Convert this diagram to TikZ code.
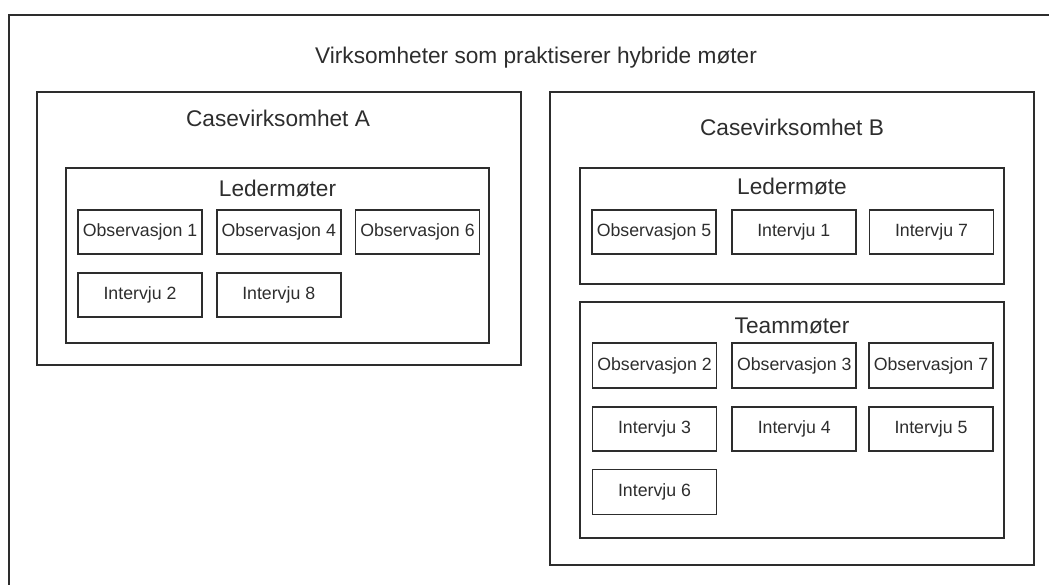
\documentclass[tikz,border=0pt]{standalone}
\usepackage{fontspec}
\setmainfont{Liberation Sans}
\usepackage{xcolor}
\usetikzlibrary{positioning}
\definecolor{inkgray}{RGB}{45,45,45}

\begin{document}
\begin{tikzpicture}[x=0.75pt, y=-0.75pt, font=\fontsize{13.3pt}{15pt}\selectfont, text=inkgray]
\tikzstyle{item}=[draw=inkgray, line width=1.3pt, minimum width=93pt, minimum height=33pt, inner sep=0pt, align=center]
\tikzstyle{group}=[draw=inkgray, line width=1.3pt, inner sep=0pt]
\tikzstyle{heading}=[font=\fontsize{17pt}{20pt}\selectfont, anchor=base, inner sep=0pt]
\useasboundingbox (0,0) rectangle (1049,585);
% outer frame, only its left and top edges are inside the picture
\coordinate (frameb) at (9,585);
\coordinate (framer) at (1049,15);
\draw[inkgray, line width=1.3pt] (frameb) |- (framer);
\node[heading] (title) at (536,64) {Virksomheter som praktiserer hybride møter};

% case A
\node[group, minimum width=363pt, minimum height=204.75pt] (caseA) at (278.75,228.5) {};
\node[heading] (caseAlbl) at (278,126) {Casevirksomhet A};
\node[group, minimum width=317.25pt, minimum height=131.25pt] (lederA) at (277.5,255.5) {};
\node[heading] (lederAlbl) at (277.5,196.5) {Ledermøter};
\node[item] (obs1) at (140,232) {Observasjon 1};
\node[item, right=9.75pt of obs1] (obs4) {Observasjon 4};
\node[item, right=9.75pt of obs4] (obs6) {Observasjon 6};
\node[item, below=12.75pt of obs1] (int2) {Intervju 2};
\node[item, right=9.75pt of int2] (int8) {Intervju 8};

% case B
\node[group, minimum width=363pt, minimum height=354.75pt] (caseB) at (792,328.5) {};
\node[heading] (caseBlbl) at (792,135) {Casevirksomhet B};
\node[group, minimum width=318pt, minimum height=87pt] (lederB) at (792,226) {};
\node[heading] (lederBlbl) at (792,194) {Ledermøte};
\node[item] (obs5) at (654,232) {Observasjon 5};
\node[item, right=10.5pt of obs5] (int1) {Intervju 1};
\node[item, right=9pt of int1] (int7) {Intervju 7};
\node[group, minimum width=318pt, minimum height=177pt] (team) at (792,420) {};
\node[heading] (teamlbl) at (792,333) {Teammøter};
\node[item, minimum height=33.75pt] (obs2) at (654.5,365.5) {Observasjon 2};
\node[item, minimum height=33.75pt, right=10.5pt of obs2] (obs3) {Observasjon 3};
\node[item, minimum height=33.75pt, right=8.25pt of obs3] (obs7) {Observasjon 7};
\node[item, minimum height=33pt, below=12.75pt of obs2] (int3) {Intervju 3};
\node[item, minimum height=33pt, right=10.5pt of int3] (int4) {Intervju 4};
\node[item, minimum height=33pt, right=8.25pt of int4] (int5) {Intervju 5};
\node[item, minimum height=33.75pt, below=12.75pt of int3] (int6) {Intervju 6};
\end{tikzpicture}
\end{document}
